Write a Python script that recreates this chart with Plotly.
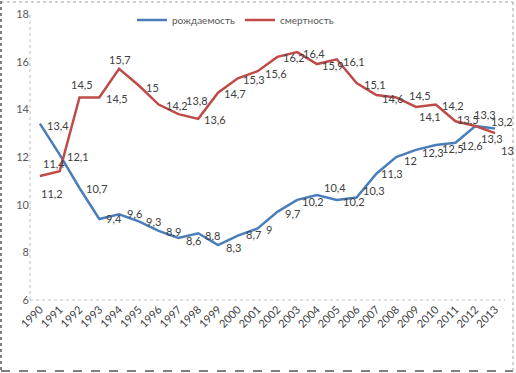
import plotly.graph_objects as go

years = [str(y) for y in range(1990, 2014)]
birth = [13.4, 12.1, 10.7, 9.4, 9.6, 9.3, 8.9, 8.6, 8.8, 8.3, 8.7, 9.0, 9.7, 10.2,
         10.4, 10.2, 10.3, 11.3, 12.0, 12.3, 12.5, 12.6, 13.3, 13.2]
death = [11.2, 11.4, 14.5, 14.5, 15.7, 15.0, 14.2, 13.8, 13.6, 14.7, 15.3, 15.6, 16.2,
         16.4, 15.9, 16.1, 15.1, 14.6, 14.5, 14.1, 14.2, 13.5, 13.3, 13.0]
y_ticks = [6, 8, 10, 12, 14, 16, 18]

# label offsets (pixels right, pixels down) from each point, as placed in the original
birth_off = [(18, 2), (18, 2), (18, 1), (15, 0), (15, -1), (15, 0), (15, 1), (15, 2),
             (14, 2), (15, 2), (16, -1), (11, 1), (15, 2), (16, 2), (18, -8), (17, 2),
             (17, -7), (16, 0), (14, 3), (17, 3), (17, 3), (16, 3), (10, -12), (7, -7)]
death_off = [(12, 17), (-6, -8), (3, -13), (18, 1), (1, -9), (14, 2), (18, 1), (19, -14),
             (17, 1), (17, 1), (16, 1), (18, 2), (17, 1), (17, 1), (16, 1), (17, 2),
             (18, 1), (17, 3), (24, -2), (14, 10), (17, 1), (12, -2), (17, 12), (12, 17)]

def fmt(v):
    return f"{v:g}".replace(".", ",")

FONT = "Lato, Liberation Sans, sans-serif"
BLUE = "#4A7EBB"
RED = "#BE4B48"

fig = go.Figure()
fig.add_trace(go.Scatter(x=years, y=birth, name="рождаемость", mode="lines",
                         line=dict(color=BLUE, width=2.5), cliponaxis=False))
fig.add_trace(go.Scatter(x=years, y=death, name="смертность", mode="lines",
                         line=dict(color=RED, width=2.5), cliponaxis=False))

annotations = []
for series, offs in ((birth, birth_off), (death, death_off)):
    for idx, (v, (dx, dy)) in enumerate(zip(series, offs)):
        annotations.append(dict(x=idx, y=v, xref="x", yref="y", text=fmt(v),
                                showarrow=False, xanchor="center", yanchor="middle",
                                xshift=dx, yshift=-dy,
                                font=dict(family=FONT, size=11, color="#404040")))

L, R_, T, B = 30, 11, 14, 73
W, H = 516, 373
pw, ph = W - L - R_, H - T - B
def px(x):
    return (x - L) / pw
def py(y):
    return (H - B - y) / ph

shapes = [
    dict(type="line", xref="paper", yref="paper", x0=0, x1=0, y0=0, y1=1,
         line=dict(color="#BFBFBF", width=1, dash="dot")),
    dict(type="line", xref="paper", yref="paper", x0=0, x1=1, y0=0, y1=0,
         line=dict(color="#BFBFBF", width=1, dash="dot")),
    dict(type="line", xref="paper", yref="paper", x0=px(1), x1=px(1), y0=py(1), y1=py(371),
         line=dict(color="#000000", width=1, dash="dot")),
    dict(type="line", xref="paper", yref="paper", x0=px(1), x1=px(513), y0=py(371), y1=py(371),
         line=dict(color="#000000", width=1, dash="dash")),
    dict(type="line", xref="paper", yref="paper", x0=px(1), x1=px(513), y0=py(2), y1=py(2),
         line=dict(color="#A0A0A0", width=1, dash="dot")),
    dict(type="line", xref="paper", yref="paper", x0=px(513), x1=px(513), y0=py(2), y1=py(371),
         line=dict(color="#A0A0A0", width=1, dash="dot")),
]

fig.update_layout(
    width=W, height=H,
    margin=dict(l=L, r=R_, t=T, b=B, autoexpand=False),
    paper_bgcolor="white", plot_bgcolor="white",
    font=dict(family=FONT, size=11, color="#595959"),
    showlegend=True,
    legend=dict(orientation="h", x=px(132), y=py(20), xanchor="left", yanchor="middle",
                bgcolor="rgba(0,0,0,0)", font=dict(family=FONT, size=10, color="#595959"),
                itemwidth=30, tracegroupgap=0),
    xaxis=dict(type="category", categoryorder="array", categoryarray=years,
               range=[-0.5, len(years) - 0.5],
               showgrid=False, zeroline=False, showline=False,
               tickangle=-45, ticks="", automargin=False,
               tickfont=dict(family=FONT, size=11, color="#404040")),
    yaxis=dict(range=[6, 18], tickvals=y_ticks, showgrid=False, zeroline=False,
               showline=False, ticks="", automargin=False,
               tickfont=dict(family=FONT, size=11, color="#595959")),
    shapes=shapes,
    annotations=annotations,
)

fig.write_html("out.html", config={"displayModeBar": False},
               post_script="document.body.style.margin='0';document.body.style.overflow='hidden';")
